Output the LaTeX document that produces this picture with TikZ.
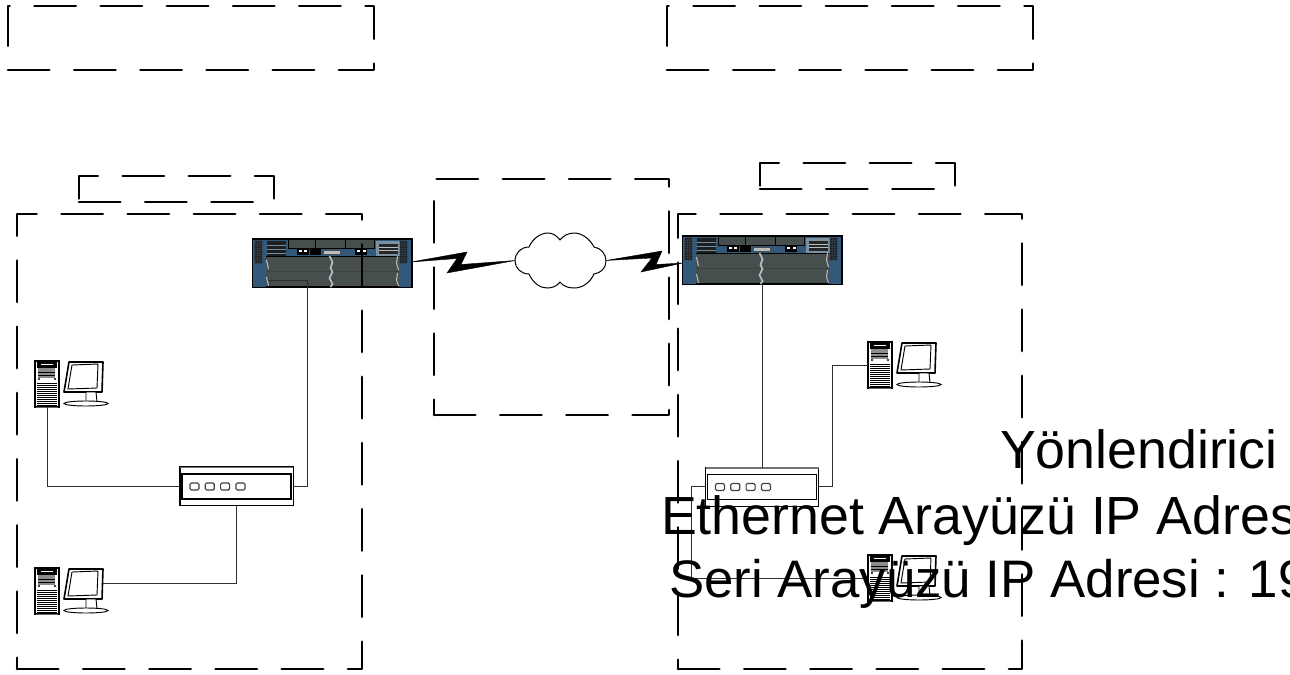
\documentclass[tikz,border=0pt]{standalone}
\usepackage{fontspec}
\setmainfont{Liberation Sans}
\definecolor{rblue}{HTML}{33597A}
\definecolor{rcard}{HTML}{474E4E}
\definecolor{rlight}{HTML}{B8BEC0}
\definecolor{wire}{HTML}{303030}
\tikzset{
  dashbox/.style={line width=2.1pt,line cap=round,line join=round,dash pattern=on 31pt off 18.65pt},
  wireline/.style={line width=0.75pt,draw=wire},
  routerbox/.style={rectangle,draw=black,line width=1pt,fill=rblue,minimum width=119.5pt,minimum height=36.5pt,inner sep=0pt,outer sep=0pt,anchor=north west},
  hubbox/.style={rectangle,draw=black,line width=0.85pt,fill=white,minimum width=85pt,minimum height=29pt,inner sep=0pt,outer sep=0pt,anchor=north west},
  towerbox/.style={rectangle,draw=black,line width=0.85pt,fill=white,minimum width=18pt,minimum height=34.5pt,inner sep=0pt,outer sep=0pt,anchor=north west},
  monitorbox/.style={rectangle,minimum width=29pt,minimum height=22.5pt,inner sep=0pt,outer sep=0pt,anchor=north west},
  cloudbox/.style={rectangle,minimum width=68pt,minimum height=41pt,inner sep=0pt,outer sep=0pt},
  bigtext/.style={font=\fontsize{40.3}{40.3}\selectfont,inner sep=0pt,outer sep=0pt,anchor=base west,text=black},
  zig/.style={fill=black,draw=black,line width=0.3pt,line join=miter}
}
% router details, origin = top-left of the box
\newcommand{\routerparts}[2]{%
\begin{scope}[shift={(#1,#2)}]
  \fill[rlight!55!rblue] (123,2) rectangle (147,17);
  \foreach \a in {3.5,6,8.5}{\foreach \b in {3,5.5,...,23}{\fill[black!85] (\a,\b) circle[radius=1.6];\fill[black!85] (\a+145,\b) circle[radius=1.6];}}
  \fill[black!88] (14,2) rectangle (33,18);
  \foreach \b in {6,10,14}{\draw[rblue!70,line width=0.3pt] (14,\b) -- (33,\b);}
  \fill[black!85] (126,5) rectangle (145,15);
  \foreach \b in {8,11}{\draw[rlight,line width=0.3pt] (126,\b) -- (145,\b);}
  \fill[rcard] (36,1) rectangle (122,9);
  \draw[black,line width=0.5pt] (36,1) -- (36,9) -- (122,9) -- (122,1);
  \foreach \a in {63,93}{\draw[black,line width=0.7pt] (\a,1) -- (\a,9);}
  \fill[black] (44,9) rectangle (56,16);
  \fill[white] (46,11) rectangle (49,13);\fill[white] (51,11) rectangle (54,13);
  \fill[black] (57,9) rectangle (68,16);
  \fill[rlight] (71,11) rectangle (88,15);
  \draw[black!70,line width=0.3pt] (71,11) rectangle (88,15);
  \fill[black] (102,9) rectangle (114,16);
  \fill[white] (104,11) rectangle (107,13);\fill[white] (110,11) rectangle (113,13);
  % line cards
  \fill[rcard] (13,17) rectangle (146,32);
  \fill[rcard] (13,33) rectangle (146,48);
  \draw[black,line width=0.7pt] (13,17) -- (146,17);
  \draw[black!75,line width=1pt] (13,32.5) -- (146,32.5);
  \draw[black,line width=0.9pt] (13,48) -- (146,48);
  \draw[rlight,line width=1.3pt] (77,17) -- (80,23) -- (78,29) -- (80,33) -- (77,39) -- (80,45) -- (78,48);
  \draw[rlight,line width=0.8pt] (14,21) -- (16,30);
  \draw[rlight,line width=0.8pt] (14,38) -- (16,47);
  \draw[rlight,line width=0.8pt] (145,17) -- (144,24) -- (146,31);
  \draw[rlight,line width=0.8pt] (145,34) -- (144,41) -- (146,47);
\end{scope}}
% hub details
\newcommand{\hubparts}[2]{%
\begin{scope}[shift={(#1,#2)}]
  \draw[black!55,line width=1.1pt] (0,0.5) -- (113,0.5);
  \draw[black,line width=0.85pt] (2,7) rectangle (111,32);
  \foreach \a in {10,25.3,40.6,56}{\draw[black!75,line width=0.85pt,rounded corners=1pt,fill=white] (\a,16) rectangle ++(9,7);}
\end{scope}}
% workstation, origin = top-left of the tower
\newcommand{\pcparts}[2]{%
\begin{scope}[shift={(#1,#2)}]
  \fill[black] (2,1) rectangle (22,7);
  \fill[white] (6,2.5) rectangle (18,3.5);
  \fill[black!45] (3,7) rectangle (20,17);
  \draw[black,line width=0.6pt] (3,11) -- (20,11);
  \draw[black,line width=0.6pt] (3,14) -- (20,14);
  \fill[black] (4,18) circle[radius=1.2];\fill[black] (20,18) circle[radius=1.2];
  \foreach \b in {22,24,...,44}{\fill[black] (2,\b) rectangle (22,\b+1.4);}
  \draw[black!60,line width=1pt] (1,46.5) -- (23,46.5);
  \draw[black,line width=1.2pt,fill=white,line join=round] (34,1) -- (68,1) -- (67,31) -- (29,31) -- cycle;
  \draw[black,line width=0.7pt] (37,4) -- (63,3) -- (62,27) -- (33,28) -- cycle;
  \draw[black,line width=0.7pt,fill=white] (51,31) -- (61,31) -- (62,41) -- (51,41) -- cycle;
  \draw[black,line width=0.7pt,fill=white] (51,42.5) ellipse[x radius=22,y radius=2.5];
\end{scope}}
\begin{document}
\begin{tikzpicture}[x=0.75pt,y=-0.75pt]
\useasboundingbox (0,0) rectangle (1290,675);
\clip (0,0) rectangle (1290,675);
\fill[white] (0,0) rectangle (1290,675);

% routers
\node[routerbox] (r1) at (252.5,239) {};
\routerparts{252.5}{239}
\node[routerbox] (r2) at (682.5,236) {};
\routerparts{682.5}{236}

% cloud
\node[cloudbox] (wan) at (560.5,260.5) {};
\draw[black,line width=0.75pt,fill=white]
 (515,261) .. controls (515,253) and (521,247) .. (529,247)
 .. controls (533,238) and (541,233) .. (548,233) .. controls (553,233) and (557,236) .. (560,240)
 .. controls (563,236) and (568,233) .. (574,233) .. controls (582,233) and (590,239) .. (594,247)
 .. controls (601,248) and (606,254) .. (606,261) .. controls (606,268) and (601,273) .. (594,274)
 .. controls (590,283) and (582,288) .. (574,288) .. controls (568,288) and (563,286) .. (560,282)
 .. controls (557,286) and (553,288) .. (547,288) .. controls (540,288) and (533,283) .. (529,274)
 .. controls (521,274) and (515,268) .. (515,261) -- cycle;

% serial links
\coordinate (r1port) at (411,262);
\coordinate (r2port) at (683,263);
\fill[zig] (r1port) -- (467,252) -- (461,264.5) -- (wan.west) -- (447,273) -- (457,258.5) -- cycle;
\fill[zig] (wan.east) -- (662,251) -- (656,264.5) -- (r2port) -- (641,272) -- (652,258) -- cycle;

% hubs
\node[hubbox] (hub1) at (180,467) {};
\hubparts{180}{467}
\node[hubbox] (hub2) at (705.5,467.5) {};
\hubparts{705.5}{467.5}

% workstations
\node[towerbox] (pc1t) at (35,361) {};
\node[monitorbox] (pc1m) at (64,362) {};
\pcparts{35}{361}
\node[towerbox] (pc2t) at (35,568) {};
\node[monitorbox] (pc2m) at (64,568) {};
\pcparts{35}{568}
\node[towerbox] (pc3t) at (868,342) {};
\node[monitorbox] (pc3m) at (897,343) {};
\pcparts{868}{342}
\node[towerbox] (pc4t) at (868,555) {};
\node[monitorbox] (pc4m) at (897,556) {};
\pcparts{868}{555}

% wiring
\coordinate (r1card) at (268,280);
\coordinate (r1drop) at (307,280);
\draw[wireline] (hub1.west) -| (pc1t.south);
\draw[wireline] (hub1.east) -| (r1drop) -- (r1card);
\draw[wireline] (hub1.south) |- (pc2m.east);
\draw[wireline] (hub2.north) -- (hub2.north |- r2.south);
\draw[wireline] (hub2.east) -- ++(14,0) |- (pc3t.west);
\draw[wireline] (hub2.west) -- ++(-14,0) |- (pc4t.west);

% dashed areas (all start bottom-left, run right, up, left, down)
\draw[dashbox] (8,70) -- (374,70) -- (374,6) -- (8,6) -- cycle;
\draw[dashbox] (667,70) -- (1033,70) -- (1033,6) -- (667,6) -- cycle;
\draw[dashbox] (79,202) -- (274,202) -- (274,176) -- (79,176) -- cycle;
\draw[dashbox] (760,189) -- (955,189) -- (955,163) -- (760,163) -- cycle;
\draw[dashbox] (17,669) -- (362,669) -- (362,214) -- (17,214) -- cycle;
\draw[dashbox] (678,669) -- (1022,669) -- (1022,214) -- (678,214) -- cycle;
\draw[dashbox] (434,415) -- (669,415) -- (669,179) -- (434,179) -- cycle;

% texts
\node[bigtext] (t1) at (1000,468) {Yönlendirici};
\node[bigtext] (t2) at (661,534) {Ethernet Arayüzü IP Adres};
\node[bigtext,font=\fontsize{39.6}{39.6}\selectfont] (t3) at (669,597) {Seri Arayüzü IP Adresi : 19};
\end{tikzpicture}
\end{document}
